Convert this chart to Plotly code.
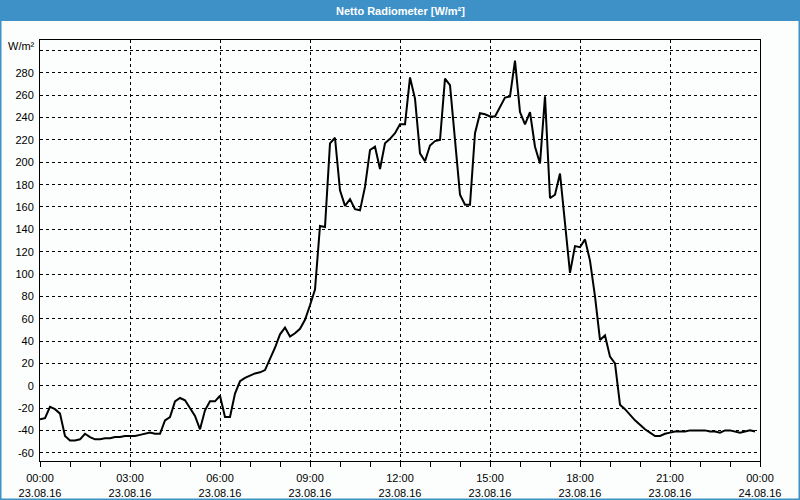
import plotly.graph_objects as go
import pandas as pd

# 10-minute readings, 23.08.16 00:00 .. 23:50
times = pd.date_range("2016-08-23 00:00", periods=144, freq="10min")
values = [
    -30, -29, -19, -21, -25, -45, -49, -49, -48, -43,
    -46, -48, -48, -47, -47, -46, -46, -45, -45, -45,
    -44, -43, -42, -43, -43, -31, -28, -14, -11, -13,
    -20, -27, -39, -22, -14, -14, -9, -28, -28, -7,
    4, 7, 9, 11, 12, 14, 24, 34, 46, 52,
    44, 47, 51, 59, 72, 86, 143, 142, 217, 222,
    175, 161, 167, 158, 157, 178, 211, 214, 194, 217,
    221, 226, 234, 234, 276, 257, 208, 201, 215, 219,
    220, 275, 269, 220, 171, 162, 162, 226, 244, 243,
    241, 241, 250, 258, 259, 291, 245, 234, 245, 214,
    199, 259, 168, 171, 190, 145, 101, 125, 124, 131,
    112, 80, 41, 45, 26, 20, -17, -21, -26, -31,
    -35, -39, -42, -45, -45, -43, -42, -41, -41, -41,
    -40, -40, -40, -40, -41, -41, -42, -40, -40, -41,
    -42, -41, -40, -41,
]

x_tick_vals = pd.date_range("2016-08-23 00:00", periods=9, freq="3h")
x_tick_text = [
    "00:00<br>23.08.16", "03:00<br>23.08.16", "06:00<br>23.08.16",
    "09:00<br>23.08.16", "12:00<br>23.08.16", "15:00<br>23.08.16",
    "18:00<br>23.08.16", "21:00<br>23.08.16", "00:00<br>24.08.16",
]
y_tick_vals = [-60, -40, -20, 0, 20, 40, 60, 80, 100, 120, 140, 160,
               180, 200, 220, 240, 260, 280, 300]
y_tick_text = [str(v) for v in y_tick_vals[:-1]] + [""]

title_text = "Netto Radiometer [W/m²]"
unit_text = "W/m²"

BLUE = "#3d91c7"
BG = "#fbfefc"
W, H = 800, 500
L, R, T, B = 40, 40, 40, 39
PW, PH = W - L - R, H - T - B


def px(xp):
    return (xp - L) / PW


def py(yp):
    return (H - B - yp) / PH


fig = go.Figure()
fig.add_trace(go.Scatter(
    x=times, y=values, mode="lines",
    line=dict(color="black", width=2),
    hoverinfo="skip", showlegend=False,
))

font = dict(family="Liberation Sans, Arial, sans-serif", size=11, color="black")

fig.update_layout(
    width=W, height=H,
    margin=dict(l=L, r=R, t=T, b=B, autoexpand=False),
    paper_bgcolor=BG, plot_bgcolor=BG,
    font=font,
    showlegend=False,
    hovermode=False,
    xaxis=dict(
        range=["2016-08-23 00:00", "2016-08-24 00:00"],
        tickmode="array", tickvals=x_tick_vals, ticktext=x_tick_text,
        ticks="outside", ticklen=5, tickcolor="black", tickwidth=1,
        showgrid=True, gridcolor="black", griddash="3px,3px", gridwidth=1,
        showline=True, linecolor="black", linewidth=1, mirror=True,
        zeroline=False, ticklabelstandoff=2,
        minor=dict(dtick=3600000, ticks="outside", ticklen=5,
                   tickcolor="black", showgrid=False),
        tickfont=font,
    ),
    yaxis=dict(
        range=[-67.4, 309.5],
        tickmode="array", tickvals=y_tick_vals, ticktext=y_tick_text,
        ticks="", showgrid=True, gridcolor="black", griddash="3px,3px",
        gridwidth=1,
        showline=True, linecolor="black", linewidth=1, mirror=True,
        zeroline=False, ticklabelstandoff=3,
        tickfont=font,
    ),
    shapes=[
        dict(type="rect", xref="paper", yref="paper",
             x0=px(0), x1=px(800), y0=py(21), y1=py(0),
             fillcolor=BLUE, line=dict(width=0), layer="above"),
        dict(type="rect", xref="paper", yref="paper",
             x0=px(0), x1=px(1.5), y0=py(500), y1=py(0),
             fillcolor=BLUE, line=dict(width=0), layer="above"),
        dict(type="rect", xref="paper", yref="paper",
             x0=px(798.5), x1=px(800), y0=py(500), y1=py(0),
             fillcolor=BLUE, line=dict(width=0), layer="above"),
        dict(type="rect", xref="paper", yref="paper",
             x0=px(0), x1=px(800), y0=py(500), y1=py(498.5),
             fillcolor=BLUE, line=dict(width=0), layer="above"),
    ],
    annotations=[
        dict(text="<b>" + title_text + "</b>", xref="paper", yref="paper",
             x=px(400), y=py(10.5), xanchor="center", yanchor="middle",
             showarrow=False,
             font=dict(family="Liberation Sans, Arial, sans-serif", size=11,
                       color="white")),
        dict(text=unit_text, xref="paper", yref="paper",
             x=px(37), y=py(46), xanchor="right", yanchor="middle",
             showarrow=False, font=font),
    ],
)

fig.write_html(
    "out.html",
    config={"displayModeBar": False, "staticPlot": True},
    post_script="document.body.style.margin='0';"
                "document.body.style.overflow='hidden';",
)
